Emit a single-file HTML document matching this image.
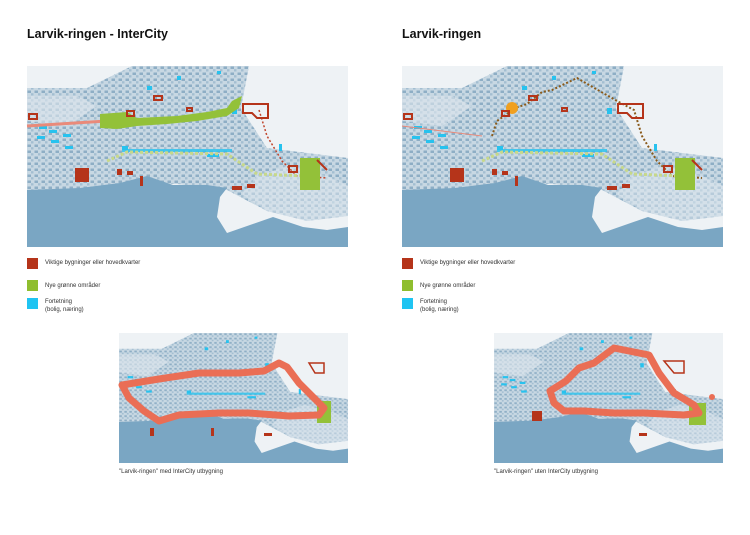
<!DOCTYPE html>
<html><head><meta charset="utf-8"><style>
html,body{margin:0;padding:0;background:#fff;}
body{width:750px;height:530px;overflow:hidden;font-family:"Liberation Sans",sans-serif;}
</style></head><body>
<svg width="750" height="530" viewBox="0 0 750 530" xmlns="http://www.w3.org/2000/svg">
<defs>
<pattern id="city" width="7" height="6" patternUnits="userSpaceOnUse">
<rect width="7" height="6" fill="#c8d8e3"/>
<rect x="0.5" y="0.5" width="3.5" height="2.5" fill="#8eaec5"/>
<rect x="4" y="3.2" width="2.5" height="2.3" fill="#a3bed1"/>
</pattern>
<symbol id="base" viewBox="0 0 321 181" preserveAspectRatio="none">
<rect width="321" height="181" fill="#eef2f5"/>
<polygon points="0,22 60,22 105,0 222,0 214,42 240,82 321,92 321,150 280,155 240,145 200,124 150,118 100,118 60,124 0,126" fill="url(#city)"/>
<polygon points="0,30 50,30 70,40 40,60 0,55" fill="#dde6ed" opacity="0.6"/>
<polygon points="230,110 260,100 300,110 321,120 321,150 280,155 240,145 215,128" fill="#dfe8ef" opacity="0.5"/>
<polygon points="0,124 53,122 93,117 120,110 146,119 180,119 200,122 193,131 190,151 200,167 246,151 276,161 300,164 321,161 321,181 0,181" fill="#7aa6c3"/>
<g fill="#27c2ee">
<rect x="12" y="60" width="8" height="3"/><rect x="22" y="64" width="8" height="3"/><rect x="10" y="70" width="8" height="3"/><rect x="24" y="74" width="8" height="3"/><rect x="36" y="68" width="8" height="3"/><rect x="38" y="80" width="8" height="3"/>
<rect x="95" y="80" width="6" height="4"/><rect x="120" y="20" width="5" height="4"/><rect x="150" y="10" width="4" height="4"/><rect x="190" y="5" width="4" height="3"/><rect x="205" y="42" width="5" height="6"/><rect x="252" y="78" width="3" height="7"/>
<rect x="95" y="83" width="110" height="3" opacity="0.8"/><rect x="180" y="88" width="12" height="3"/>
</g>
</symbol>
</defs>

<text x="27" y="38" font-size="12.5" font-weight="bold" fill="#111">Larvik-ringen - InterCity</text>
<text x="402" y="38" font-size="12.5" font-weight="bold" fill="#111">Larvik-ringen</text>

<g transform="translate(27,66)">
<use href="#base" width="321" height="181"/>
<path d="M0,60 L80,55" stroke="#e98a7a" stroke-width="3" fill="none"/>
<path d="M73,48 L100,46 110,52 150,50 180,46 200,42 205,35 215,30 212,42 200,50 170,55 140,58 110,60 90,63 73,62Z" fill="#93c139"/>
<path d="M232,44 L240,70 255,95 270,110 300,112" stroke="#c0462e" stroke-width="1.5" stroke-dasharray="2,2" fill="none"/>
<path d="M80,95 L100,86 200,88 230,108 280,110" stroke="#c7d88a" stroke-width="3" fill="none" stroke-dasharray="3,2"/>
<rect x="273" y="92" width="20" height="32" fill="#93c139"/>
<g fill="#b5341a">
<rect x="48" y="102" width="14" height="14"/><rect x="90" y="103" width="5" height="6"/><rect x="100" y="105" width="6" height="4"/><rect x="113" y="110" width="3" height="10"/><rect x="205" y="120" width="10" height="4"/><rect x="220" y="118" width="8" height="4"/>
</g>
<g fill="none" stroke="#b5341a" stroke-width="2">
<path d="M216,38 L241,38 241,52 230,52 225,47 216,47Z"/><rect x="127" y="30" width="8" height="4"/><rect x="160" y="42" width="5" height="3"/><rect x="100" y="45" width="7" height="5"/><rect x="2" y="48" width="8" height="5"/><rect x="262" y="100" width="8" height="6"/><path d="M290,94 L300,104"/>
</g>
</g>

<g transform="translate(402,66)">
<use href="#base" width="321" height="181"/>
<path d="M0,60 L80,70" stroke="#e98a7a" stroke-width="1" fill="none"/>
<path d="M90,70 L95,55 105,48 110,43 125,38 140,26 150,24 175,12 215,35 232,44 240,70 255,95 270,110 300,112" stroke="#8a5a1a" stroke-width="2" stroke-dasharray="2,2" fill="none"/>
<circle cx="110" cy="42" r="6" fill="#f0a020"/>
<path d="M80,95 L100,86 200,88 230,108 280,110" stroke="#c7d88a" stroke-width="3" fill="none" stroke-dasharray="3,2"/>
<rect x="273" y="92" width="20" height="32" fill="#93c139"/>
<g fill="#b5341a">
<rect x="48" y="102" width="14" height="14"/><rect x="90" y="103" width="5" height="6"/><rect x="100" y="105" width="6" height="4"/><rect x="113" y="110" width="3" height="10"/><rect x="205" y="120" width="10" height="4"/><rect x="220" y="118" width="8" height="4"/>
</g>
<g fill="none" stroke="#b5341a" stroke-width="2">
<path d="M216,38 L241,38 241,52 230,52 225,47 216,47Z"/><rect x="127" y="30" width="8" height="4"/><rect x="160" y="42" width="5" height="3"/><rect x="100" y="45" width="7" height="5"/><rect x="2" y="48" width="8" height="5"/><rect x="262" y="100" width="8" height="6"/><path d="M290,94 L300,104"/>
</g>
</g>

<g font-size="6" fill="#333">
<rect x="27" y="258" width="11" height="11" fill="#b5341a"/><text x="45" y="264">Viktige bygninger eller hovedkvarter</text>
<rect x="27" y="280" width="11" height="11" fill="#8fbe2e"/><text x="45" y="287">Nye grønne områder</text>
<rect x="27" y="298" width="11" height="11" fill="#1fc4f2"/><text x="45" y="303">Fortetning</text><text x="45" y="311">(bolig, næring)</text>
<rect x="402" y="258" width="11" height="11" fill="#b5341a"/><text x="420" y="264">Viktige bygninger eller hovedkvarter</text>
<rect x="402" y="280" width="11" height="11" fill="#8fbe2e"/><text x="420" y="287">Nye grønne områder</text>
<rect x="402" y="298" width="11" height="11" fill="#1fc4f2"/><text x="420" y="303">Fortetning</text><text x="420" y="311">(bolig, næring)</text>
</g>

<g transform="translate(119,333)">
<use href="#base" width="229" height="130"/>
<rect x="198" y="68" width="14" height="22" fill="#93c139"/>
<path d="M190,30 L205,30 205,40 196,40Z" fill="none" stroke="#b5341a" stroke-width="1.5"/>
<path d="M3,52 L40,46 80,40 120,40 145,38 160,30 168,34 180,50 195,65 205,75 200,82 170,83 130,80 100,80 60,82 40,88 25,78 10,65Z" fill="none" stroke="#ea6e55" stroke-width="7" stroke-linejoin="round"/>
<rect x="31" y="95" width="4" height="8" fill="#b5341a"/><rect x="92" y="95" width="3" height="8" fill="#b5341a"/><rect x="145" y="100" width="8" height="3" fill="#b5341a"/>
</g>
<text x="119" y="473" font-size="6" fill="#333">"Larvik-ringen" med InterCity utbygning</text>

<g transform="translate(494,333)">
<use href="#base" width="229" height="130"/>
<rect x="195" y="70" width="17" height="22" fill="#93c139"/>
<path d="M170,28 L190,28 190,40 180,40Z" fill="none" stroke="#b5341a" stroke-width="1.5"/>
<rect x="38" y="78" width="10" height="10" fill="#b5341a"/>
<path d="M72,48 L85,35 100,30 120,15 135,18 155,22 165,40 180,60 200,72 205,80 190,82 150,80 120,80 90,78 70,78 60,70 56,58Z" fill="none" stroke="#ea6e55" stroke-width="7" stroke-linejoin="round"/>
<circle cx="218" cy="64" r="3" fill="#ea6e55"/>
<rect x="145" y="100" width="8" height="3" fill="#b5341a"/>
</g>
<text x="494" y="473" font-size="6" fill="#333">"Larvik-ringen" uten InterCity utbygning</text>
</svg>
</body></html>
